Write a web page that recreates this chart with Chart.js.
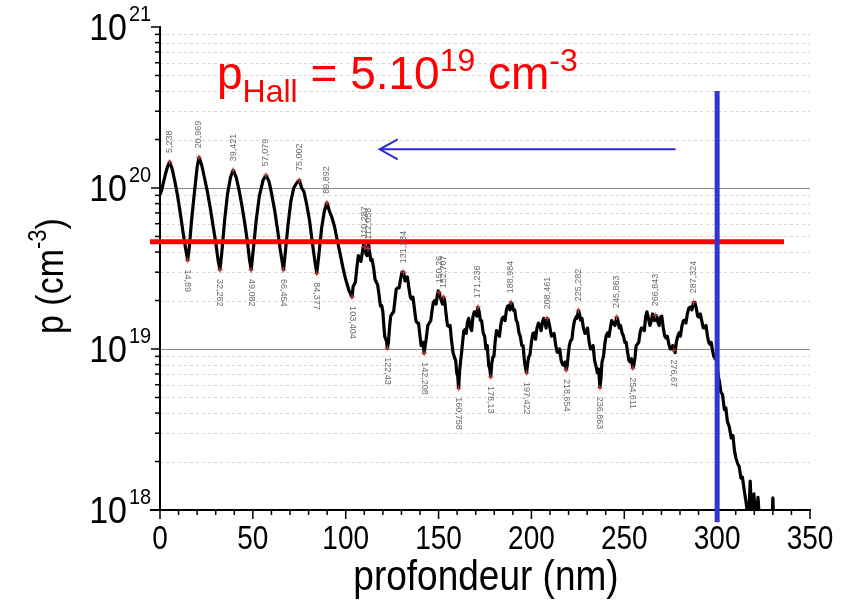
<!DOCTYPE html>
<html>
<head>
<meta charset="utf-8">
<script src="https://cdn.jsdelivr.net/npm/chart.js@4.4.0/dist/chart.umd.min.js"></script>
<style>
  html, body { margin: 0; padding: 0; background: #fff; }
</style>
</head>
<body>
<canvas id="profileChart" width="846" height="614"></canvas>
<script>
// profile: depth (nm) and hole concentration (cm-3)
const depth = [
  0, 1, 2, 3, 4, 5.2, 6.5, 8, 9.5, 11, 12.5, 13.8, 14.9,
  15.8, 17, 18.5, 20, 21, 22.5, 24, 25.5, 27, 28.5, 30, 31.3, 32.3,
  33.3, 34.8, 36.3, 38, 39.4, 41, 42.5, 44, 45.5, 47, 48.2, 49.1,
  50.2, 51.8, 53.5, 55.5, 57.1, 58.7, 60.2, 61.8, 63.3, 64.8, 66.5,
  67.5, 69, 70.5, 72, 73.5, 75, 76.3, 77.5, 79, 80.5, 82, 83.4, 84.4,
  85.5, 87, 88.5, 89.9, 91.2, 92.5, 94, 95.5, 97, 98.5, 100, 101.8,
  103.4, 104.0, 104.5, 105.2, 106, 106.8, 107.5, 108.2, 109, 109.7, 110.3, 110.9, 111.5, 112.0, 112.5, 113.0, 113.5, 114.2, 115, 115.8,
  116.5, 117.2, 118, 118.7, 119.4, 120.0, 120.5, 121.0, 121.5, 122.0, 122.4,
  123.0, 123.5, 124.2, 125, 125.8, 126.5, 127.2, 128, 128.8, 129.5, 130.3, 131.2, 131.9, 132.5, 133.2, 134, 134.8, 135.5, 136.2, 137,
  137.8, 138.5, 139.2, 140, 140.6, 141.2, 141.7, 142.2,
  142.8, 143.3, 144.2, 145, 145.8, 146.5, 147.2, 148, 148.7, 149.3, 149.8, 150.3, 150.9, 151.5, 152.1, 152.7, 153.3, 154, 154.8, 155.5,
  156.2, 157, 157.8, 158.5, 159.2, 159.8, 160.3, 160.8,
  161.3, 161.8, 162.4, 163, 163.6, 164.3, 164.9, 165.5, 166.2, 167, 167.8, 168.5, 169.2, 170, 170.6, 171.2, 171.9, 172.5, 173.2, 174,
  174.8, 175.5, 176.2, 177, 177.6, 178.1,
  178.6, 179.2, 179.8, 180.5, 181.2, 182, 182.8, 183.5, 184.2, 185, 185.8, 186.5, 187.2, 188, 188.5, 189, 189.6, 190.3, 191.0, 191.8,
  192.5, 193.3, 194.0, 194.8, 195.5, 196.2, 196.8, 197.4,
  198.0, 198.5, 199.2, 200, 200.8, 201.5, 202.2, 203, 203.8, 204.5, 205.2, 206, 206.6, 207.3, 207.9, 208.5, 209.2, 210, 210.8, 211.5,
  212.2, 213, 213.8, 214.5, 215.2, 216, 216.8, 217.5, 218.1, 218.7,
  219.2, 219.8, 220.4, 221, 221.8, 222.5, 223.2, 224, 224.6, 225.3, 225.9, 226.5, 227.2, 228, 228.8, 229.5, 230.2, 231, 231.8, 232.5,
  233.2, 234, 234.8, 235.5, 236.2, 236.9,
  237.4, 238, 238.8, 239.5, 240.2, 241, 241.8, 242.5, 243.2, 244, 245.0, 245.9, 246.6, 247.3, 248.0, 248.8, 249.6, 250.3, 251.0, 251.8,
  252.5, 253.2, 253.9, 254.6,
  255.2, 255.8, 256.4, 257, 257.8, 258.5, 259.2, 260, 260.8, 261.5, 262.2, 263, 263.8, 264.5, 265.2, 265.8, 266.3, 266.8, 267.4, 268,
  268.8, 269.5, 270.2, 271, 271.8, 272.5, 273.2, 274, 274.8, 275.5, 276.1, 276.7,
  277.4, 278, 278.8, 279.5, 280.2, 281, 281.8, 282.5, 283.2, 284, 284.8, 285.5, 286.4, 287.3, 288.0, 288.8, 289.5, 290.3, 291.0, 291.8,
  292.5, 293.3, 294.0, 294.8, 295.5, 296.2, 296.8, 297.5, 298.2, 299, 299.8, 300.5,
  301.2, 302, 302.9, 303.9, 304.7, 305.5, 306.5, 307.6, 308.5, 309.3, 310.1, 311, 311.9, 312.8, 313.6, 314.5, 315.8, 316.8, 317.8, 318.8,
  319.8, 320.8, 322, 323, 329.5, 330, 330.5
];
const conc = [
  9.1e19, 9.8e19, 1.10e20, 1.23e20, 1.35e20, 1.45e20, 1.32e20, 1.10e20, 8.9e19, 6.9e19, 5.2e19, 4.2e19, 3.55e19,
  4.3e19, 6.3e19, 9.3e19, 1.35e20, 1.55e20, 1.38e20, 1.15e20, 9.5e19, 7.6e19, 5.9e19, 4.6e19, 3.55e19, 3.1e19,
  4.0e19, 6.3e19, 9.1e19, 1.17e20, 1.29e20, 1.17e20, 9.8e19, 7.9e19, 6.2e19, 4.7e19, 3.6e19, 3.1e19,
  4.1e19, 6.3e19, 8.9e19, 1.12e20, 1.2e20, 1.10e20, 9.1e19, 7.2e19, 5.5e19, 4.1e19, 3.1e19,
  4.0e19, 6.0e19, 8.3e19, 1.0e20, 1.07e20, 1.12e20, 1.0e20, 9.5e19, 7.9e19, 6.3e19, 4.6e19, 3.5e19, 2.95e19,
  3.8e19, 5.6e19, 7.2e19, 8.1e19, 7.2e19, 6.6e19, 5.75e19, 4.7e19, 3.9e19, 3.2e19, 2.7e19, 2.3e19,
  2.1e19, 2.45e19, 2.5e19, 2.6e19, 3.2e19, 3.8e19, 3.7e19, 3.5e19, 4.0e19, 4.5e19, 4.3e19, 3.9e19, 3.8e19, 4.4e19, 4.2e19, 3.9e19, 3.55e19, 3.6e19, 3.2e19, 2.7e19,
  2.6e19, 2.5e19, 2.15e19, 1.85e19, 1.86e19, 1.7e19, 1.41e19, 1.2e19, 1.15e19, 1.12e19, 1.01e19,
  1.1e19, 1.32e19, 1.6e19, 1.66e19, 1.7e19, 2.0e19, 2.35e19, 2.4e19, 2.4e19, 2.7e19, 3.0e19, 3.0e19, 2.65e19, 2.7e19, 2.8e19, 2.4e19, 2.1e19, 2.04e19, 2.1e19, 1.78e19,
  1.5e19, 1.45e19, 1.45e19, 1.2e19, 1.05e19, 1.05e19, 1.1e19, 9.4e18,
  1.05e19, 1.15e19, 1.4e19, 1.45e19, 1.5e19, 1.74e19, 1.95e19, 2.0e19, 1.9e19, 2.15e19, 2.3e19, 2.25e19, 2.1e19, 2.0e19, 1.9e19, 2.1e19, 2.0e19, 1.66e19, 1.4e19, 1.38e19,
  1.4e19, 1.12e19, 9.5e18, 8.9e18, 8.5e18, 7.1e18, 6.8e18, 5.7e18,
  7.2e18, 8.3e18, 9.5e18, 1.12e19, 1.3e19, 1.32e19, 1.25e19, 1.45e19, 1.55e19, 1.38e19, 1.3e19, 1.58e19, 1.7e19, 1.7e19, 1.6e19, 1.82e19, 1.7e19, 1.51e19, 1.5e19, 1.26e19,
  1.2e19, 1.0e19, 1.05e19, 7.9e18, 7.5e18, 6.7e18,
  8.0e18, 8.9e18, 9.0e18, 1.12e19, 1.3e19, 1.26e19, 1.2e19, 1.41e19, 1.55e19, 1.58e19, 1.5e19, 1.74e19, 1.85e19, 1.86e19, 1.75e19, 1.95e19, 1.9e19, 1.74e19, 1.75e19, 1.51e19,
  1.45e19, 1.26e19, 1.2e19, 1.05e19, 1.05e19, 8.5e18, 7.6e18, 7.1e18,
  8.2e18, 8.9e18, 9.2e18, 1.1e19, 1.25e19, 1.26e19, 1.15e19, 1.35e19, 1.45e19, 1.41e19, 1.3e19, 1.48e19, 1.55e19, 1.45e19, 1.35e19, 1.55e19, 1.5e19, 1.35e19, 1.2e19, 1.23e19,
  1.25e19, 1.07e19, 9.6e18, 9.5e18, 1.0e19, 8.5e18, 8.0e18, 7.9e18, 8.3e18, 7.4e18,
  7.8e18, 9.1e18, 1.05e19, 1.12e19, 1.15e19, 1.35e19, 1.5e19, 1.58e19, 1.55e19, 1.74e19, 1.65e19, 1.51e19, 1.55e19, 1.35e19, 1.25e19, 1.26e19, 1.35e19, 1.12e19, 1.0e19, 1.0e19,
  1.05e19, 8.5e18, 7.8e18, 7.1e18, 7.5e18, 5.75e18,
  6.5e18, 8.3e18, 9.0e18, 1.07e19, 1.2e19, 1.26e19, 1.2e19, 1.35e19, 1.5e19, 1.45e19, 1.4e19, 1.58e19, 1.5e19, 1.35e19, 1.4e19, 1.26e19, 1.2e19, 1.1e19, 1.1e19, 9.5e18,
  8.5e18, 8.3e18, 8.7e18, 7.6e18,
  8.0e18, 8.9e18, 1.05e19, 1.07e19, 1.1e19, 1.26e19, 1.35e19, 1.35e19, 1.3e19, 1.58e19, 1.7e19, 1.55e19, 1.4e19, 1.48e19, 1.65e19, 1.58e19, 1.5e19, 1.62e19, 1.6e19, 1.48e19,
  1.4e19, 1.58e19, 1.6e19, 1.35e19, 1.2e19, 1.17e19, 1.2e19, 1.07e19, 1.0e19, 1.0e19, 1.05e19, 9.8e18,
  9.5e18, 1.1e19, 1.2e19, 1.26e19, 1.2e19, 1.38e19, 1.5e19, 1.51e19, 1.45e19, 1.66e19, 1.8e19, 1.82e19, 1.75e19, 1.95e19, 1.95e19, 1.78e19, 1.6e19, 1.58e19, 1.65e19, 1.48e19,
  1.35e19, 1.35e19, 1.4e19, 1.2e19, 1.1e19, 1.07e19, 1.1e19, 9.8e18, 9.0e18, 8.7e18, 8.5e18, 6.9e18,
  6.3e18, 5.4e18, 5.2e18, 4.2e18, 4.3e18, 3.55e18, 3.3e18, 2.8e18, 2.9e18, 2.35e18, 2.1e18, 1.95e18, 1.85e18, 1.58e18, 1.6e18, 1.35e18, 1.07e18, 7.9e17, 1.51e18, 8e17,
  1.26e18, 8e17, 1.2e18, 8e17, 8e17, 1.19e18, 8e17
];

// labelled extrema
const peakDepth = [5.238, 20.969, 39.421, 57.079, 75.002, 89.892, 110.287, 112.058, 131.234, 150.26, 152.707, 171.236, 188.984, 208.461, 225.282, 245.863, 266.843, 287.324];
const peakConc = [1.45e20, 1.55e20, 1.29e20, 1.2e20, 1.12e20, 8.1e19, 4.3e19, 4.2e19, 3.0e19, 2.25e19, 2.1e19, 1.82e19, 1.95e19, 1.55e19, 1.74e19, 1.58e19, 1.62e19, 1.95e19];
const valleyDepth = [14.89, 32.262, 49.082, 66.454, 84.377, 103.404, 122.43, 142.208, 160.758, 178.13, 197.422, 218.654, 236.863, 254.611, 276.67];
const valleyConc = [3.55e19, 3.1e19, 3.1e19, 3.1e19, 2.95e19, 2.1e19, 1.01e19, 9.4e18, 5.7e18, 6.7e18, 7.1e18, 7.4e18, 5.75e18, 7.6e18, 9.8e18];

// axes
const xTicks = [0, 50, 100, 150, 200, 250, 300, 350];
const yDecades = [18, 19, 20, 21];

// overlays
const hallLevel = 4.64e19;
const hallSpan = [-5.4, 336];
const cutDepth = 300;
const cutSpan = [8.4e17, 4e20];
const arrowSpan = [277.6, 118.3];
const arrowLevel = 1.74e20;

const FONT = '"Liberation Sans", Arial, sans-serif';

function line(ctx, x1, y1, x2, y2) {
  ctx.beginPath();
  ctx.moveTo(x1, y1);
  ctx.lineTo(x2, y2);
  ctx.stroke();
}

// text pieces [text, size, dy] laid one after another
function runs(ctx, parts, x, y) {
  for (const [t, size, dy] of parts) {
    ctx.font = size + 'px ' + FONT;
    ctx.fillText(t, x, y + dy);
    x += ctx.measureText(t).width;
  }
  return x;
}

const decor = {
  id: 'decor',
  beforeDatasetsDraw(chart) {
    const { ctx, chartArea: a, scales: { x, y } } = chart;
    ctx.save();

    // minor dashed grid
    ctx.lineWidth = 1;
    ctx.strokeStyle = '#d6d6d6';
    ctx.setLineDash([3, 3]);
    for (const e of yDecades.slice(0, -1)) {
      for (let m = 2; m <= 9; m++) {
        const py = Math.round(y.getPixelForValue(m * Math.pow(10, e))) + 0.5;
        line(ctx, a.left, py, a.right, py);
      }
    }
    ctx.setLineDash([]);
    ctx.strokeStyle = '#8a8a8a';
    for (const e of [19, 20]) {
      const py = Math.round(y.getPixelForValue(Math.pow(10, e))) + 0.5;
      line(ctx, a.left, py, a.right, py);
    }

    // axes
    ctx.strokeStyle = '#000';
    ctx.lineWidth = 2;
    line(ctx, a.left, a.top - 1, a.left, a.bottom + 1);
    line(ctx, a.left - 10, a.bottom, a.right + 1, a.bottom);

    // y ticks
    ctx.lineWidth = 1.5;
    for (const e of yDecades) {
      const py = y.getPixelForValue(Math.pow(10, e));
      line(ctx, a.left - 9, py, a.left, py);
      if (e === 21) break;
      for (let m = 2; m <= 9; m++) {
        const pm = y.getPixelForValue(m * Math.pow(10, e));
        line(ctx, a.left - 5, pm, a.left, pm);
      }
    }
    // x ticks
    for (let v = 0; v <= 350; v += 10) {
      const px = x.getPixelForValue(v);
      line(ctx, px, a.bottom, px, a.bottom + (v % 50 === 0 ? 9 : 5));
    }
    ctx.restore();
  },
  afterDatasetsDraw(chart) {
    const { ctx, scales: { x, y } } = chart;
    ctx.save();
    ctx.fillStyle = '#000';

    // x tick labels (vertically stretched like the original)
    ctx.textAlign = 'center';
    ctx.textBaseline = 'alphabetic';
    ctx.font = '28px ' + FONT;
    for (const v of xTicks) {
      ctx.save();
      ctx.translate(x.getPixelForValue(v), 549);
      ctx.scale(1, 1.2);
      ctx.fillText(String(v), 0, 0);
      ctx.restore();
    }

    // y tick labels 10^n
    ctx.textAlign = 'left';
    for (const e of yDecades) {
      const py = y.getPixelForValue(Math.pow(10, e));
      ctx.save();
      ctx.translate(0, py + 13);
      ctx.scale(1, 1.1);
      ctx.font = '34px ' + FONT;
      const w = ctx.measureText('10').width;
      ctx.fillText('10', 127 - w, 0);
      ctx.font = '20px ' + FONT;
      ctx.fillText(String(e), 129, -17);
      ctx.restore();
    }

    // axis titles
    ctx.save();
    ctx.translate(486, 590);
    ctx.scale(1, 1.15);
    ctx.textAlign = 'center';
    ctx.font = '37px ' + FONT;
    ctx.fillText('profondeur (nm)', 0, 0);
    ctx.restore();

    ctx.save();
    ctx.translate(63, 334);
    ctx.rotate(-Math.PI / 2);
    ctx.scale(1, 1.15);
    ctx.textAlign = 'left';
    runs(ctx, [['p (cm', 34, 0], ['-3', 22, -15], [')', 34, 0]], 0, 0);
    ctx.restore();

    // extrema labels
    ctx.fillStyle = '#6a6a6a';
    ctx.font = '9px ' + FONT;
    ctx.textBaseline = 'middle';
    peakDepth.forEach((d, i) => {
      ctx.save();
      ctx.translate(x.getPixelForValue(d), y.getPixelForValue(peakConc[i]) - 9);
      ctx.rotate(-Math.PI / 2);
      ctx.fillText(String(d).replace('.', ','), 0, 0);
      ctx.restore();
    });
    valleyDepth.forEach((d, i) => {
      ctx.save();
      ctx.translate(x.getPixelForValue(d), y.getPixelForValue(valleyConc[i]) + 9);
      ctx.rotate(Math.PI / 2);
      ctx.fillText(String(d).replace('.', ','), 0, 0);
      ctx.restore();
    });

    // arrow
    const ay = y.getPixelForValue(arrowLevel);
    const ax1 = x.getPixelForValue(arrowSpan[0]);
    const ax2 = x.getPixelForValue(arrowSpan[1]);
    ctx.strokeStyle = '#2b2bd0';
    ctx.lineWidth = 2;
    line(ctx, ax1, ay, ax2, ay);
    ctx.beginPath();
    ctx.moveTo(ax2 + 18, ay - 10);
    ctx.lineTo(ax2, ay);
    ctx.lineTo(ax2 + 18, ay + 10);
    ctx.stroke();

    // Hall value
    ctx.fillStyle = '#ff0000';
    ctx.textBaseline = 'alphabetic';
    ctx.textAlign = 'left';
    runs(ctx, [['p', 46, 0], ['Hall', 32, 13], [' = 5.10', 46, 0], ['19', 32, -18], [' cm', 46, 0], ['-3', 32, -18]], 217, 89);

    ctx.restore();
  }
};

const markers = peakDepth.map((d, i) => ({ x: d, y: peakConc[i] }))
  .concat(valleyDepth.map((d, i) => ({ x: d, y: valleyConc[i] })));

new Chart(document.getElementById('profileChart'), {
  type: 'line',
  data: {
    datasets: [
      {
        label: 'cut',
        data: cutSpan.map(v => ({ x: cutDepth, y: v })),
        borderColor: '#3434cf',
        borderWidth: 5,
        pointRadius: 0,
        clip: false
      },
      {
        label: 'pHall',
        data: hallSpan.map(d => ({ x: d, y: hallLevel })),
        borderColor: '#ff0000',
        borderWidth: 5,
        pointRadius: 0,
        clip: false
      },
      {
        label: 'extrema',
        data: markers,
        showLine: false,
        pointStyle: 'cross',
        pointRadius: 3,
        borderColor: 'rgba(235,80,80,0.8)',
        borderWidth: 1
      },
      {
        label: 'profile',
        data: depth.map((d, i) => ({ x: d, y: conc[i] })),
        borderColor: '#000',
        borderWidth: 3.2,
        borderJoinStyle: 'round',
        pointRadius: 0,
        tension: 0
      }
    ]
  },
  options: {
    responsive: false,
    animation: false,
    layout: { padding: { top: 27, right: 36, left: 0, bottom: 0 } },
    plugins: {
      legend: { display: false },
      tooltip: { enabled: false }
    },
    scales: {
      x: {
        type: 'linear',
        min: 0,
        max: 350,
        grid: { display: false },
        border: { display: false },
        ticks: { display: false },
        afterFit(s) { s.height = 104; }
      },
      y: {
        type: 'logarithmic',
        min: 1e18,
        max: 1e21,
        grid: { display: false },
        border: { display: false },
        ticks: { display: false },
        afterFit(s) { s.width = 160; }
      }
    }
  },
  plugins: [decor]
});
</script>
</body>
</html>
